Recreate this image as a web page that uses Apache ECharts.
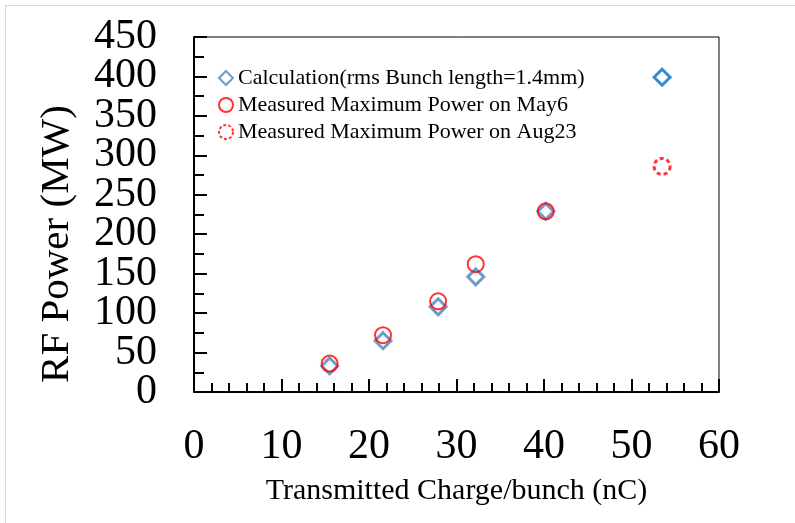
<!DOCTYPE html>
<html>
<head>
<meta charset="utf-8">
<script src="https://cdn.jsdelivr.net/npm/echarts@6/dist/echarts.min.js"></script>
<style>
html,body{margin:0;padding:0;background:#fff;}
#chart{width:795px;height:523px;}
</style>
</head>
<body>
<div id="chart"></div>
<script>
var calcX = [15.5, 21.6, 27.9, 32.2, 40.2, 53.5];
var calcY = [33, 65, 108, 146, 229, 399];
var may6X = [15.5, 21.6, 27.9, 32.2, 40.2];
var may6Y = [36, 72, 115, 162, 229];
var aug23X = [53.5];
var aug23Y = [286];
var seriesNames = ['Calculation(rms Bunch length=1.4mm)', 'Measured Maximum Power on May6', 'Measured Maximum Power on Aug23'];
var xTitle = 'Transmitted Charge/bunch (nC)';
var yTitle = 'RF Power (MW)';

function pairs(xs, ys) { return xs.map(function (x, i) { return [x, ys[i]]; }); }

var FONT = '"Liberation Serif", "Times New Roman", serif';
var calcData = pairs(calcX, calcY).map(function (p, i) {
  if (i === calcX.length - 1) return { value: p, itemStyle: { borderColor: '#0070C0' } };
  return p;
});

function yLabelAxis(show, rem) {
  return {
    type: 'value', min: 0, max: 450, interval: 50, position: 'left', offset: 0,
    axisLine: { show: show, onZero: false, lineStyle: { color: '#000', width: 2 } },
    axisTick: { show: show, inside: true, length: 13, lineStyle: { color: '#000', width: 2 } },
    minorTick: { show: show, splitNumber: 2, length: 10, lineStyle: { color: '#000', width: 2 } },
    axisLabel: {
      color: '#000', margin: 37, fontSize: 42, fontFamily: FONT,
      showMinLabel: true, showMaxLabel: true, hideOverlap: false,
      formatter: function (v) { return (v % 100 === rem) ? String(v) : ''; }
    },
    splitLine: { show: false }
  };
}

var chart = echarts.init(document.getElementById('chart'), null, { renderer: 'canvas' });
chart.setOption({
  backgroundColor: '#fff',
  animation: false,
  grid: { left: 194, top: 37, right: 76, bottom: 131, show: true, borderColor: '#000', borderWidth: 1, backgroundColor: 'transparent' },
  legend: {
    orient: 'vertical', left: 213, top: 62, itemWidth: 14, itemHeight: 14, itemGap: 5,
    textStyle: { fontFamily: FONT, fontSize: 22, color: '#000' },
    data: [
      { name: seriesNames[0], itemStyle: { borderWidth: 2, borderColor: '#4F81BD' } },
      { name: seriesNames[1], itemStyle: { borderWidth: 2 } },
      { name: seriesNames[2], itemStyle: { borderWidth: 2, borderType: [3, 2] } }
    ]
  },
  xAxis: {
    type: 'value', min: 0, max: 60, interval: 10,
    name: xTitle, nameLocation: 'middle', nameGap: 84,
    nameTextStyle: { fontFamily: FONT, fontSize: 30, color: '#000' },
    axisLine: { show: true, lineStyle: { color: '#000', width: 2 } },
    axisTick: { show: true, inside: true, length: 13, lineStyle: { color: '#000', width: 2 } },
    minorTick: { show: true, splitNumber: 5, length: 9, lineStyle: { color: '#000', width: 2 } },
    axisLabel: { fontFamily: FONT, fontSize: 42, color: '#000', margin: 34 },
    splitLine: { show: false }
  },
  yAxis: [ yLabelAxis(true, 0), yLabelAxis(false, 50) ],
  graphic: [
    { type: 'line', shape: { x1: 5, y1: 5.5, x2: 795, y2: 5.5 }, style: { stroke: '#d9d9d9', lineWidth: 1 } },
    { type: 'line', shape: { x1: 5.5, y1: 5, x2: 5.5, y2: 523 }, style: { stroke: '#d9d9d9', lineWidth: 1 } },
    { type: 'text', x: 57, y: 244, rotation: Math.PI / 2,
      style: { text: yTitle, font: '41px ' + FONT, fill: '#000', align: 'center', verticalAlign: 'middle' } }
  ],
  series: [
    {
      name: seriesNames[0], type: 'scatter', symbol: 'diamond', symbolSize: 16, z: 2, yAxisIndex: 0,
      itemStyle: { color: 'rgba(255,255,255,0)', borderColor: '#4F81BD', borderWidth: 3 },
      data: calcData
    },
    {
      name: seriesNames[1], type: 'scatter', symbol: 'circle', symbolSize: 16, z: 3, yAxisIndex: 0,
      itemStyle: { color: 'rgba(255,255,255,0)', borderColor: '#FF0000', borderWidth: 2 },
      data: pairs(may6X, may6Y)
    },
    {
      name: seriesNames[2], type: 'scatter', symbol: 'circle', symbolSize: 16, z: 3, yAxisIndex: 0,
      itemStyle: { color: 'rgba(255,255,255,0)', borderColor: '#FF0000', borderWidth: 3, borderType: [4, 3] },
      data: pairs(aug23X, aug23Y)
    }
  ]
});
</script>
</body>
</html>
